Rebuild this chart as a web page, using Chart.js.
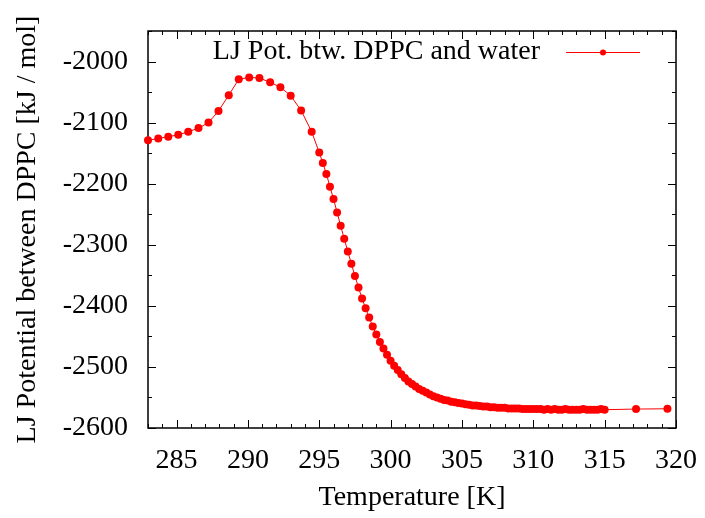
<!DOCTYPE html>
<html>
<head>
<meta charset="utf-8">
<title>LJ Potential between DPPC and water</title>
<script src="https://cdn.jsdelivr.net/npm/chart.js@4"></script>
<style>
  html, body { margin: 0; padding: 0; background: #fff; }
  #wrap { width: 705px; height: 518px; }
</style>
</head>
<body>
<div id="wrap"><canvas id="ljChart" width="705" height="518"></canvas></div>
<script>
// ============================================
// LJ potential vs temperature (gnuplot-style)
// ============================================

const temperature = [
    283.00, 283.72, 284.42, 285.12, 285.82, 286.54, 287.24, 287.94, 288.66,
    289.36, 290.09, 290.81, 291.56, 292.28, 293.00, 293.73, 294.47,
    295.00, 295.25, 295.50, 295.75, 296.00, 296.25, 296.50, 296.75,
    297.00, 297.25, 297.50, 297.75, 298.00, 298.25, 298.50, 298.75,
    299.00, 299.25, 299.50, 299.75, 300.00, 300.25, 300.50, 300.75,
    301.00, 301.25, 301.50, 301.75, 302.00, 302.25, 302.50, 302.75,
    303.00, 303.25, 303.50, 303.75, 304.00, 304.25, 304.50, 304.75,
    305.00, 305.25, 305.50, 305.75, 306.00, 306.25, 306.50, 306.75,
    307.00, 307.25, 307.50, 307.75, 308.00, 308.25, 308.50, 308.75,
    309.00, 309.25, 309.50, 309.75, 310.00, 310.25, 310.50, 310.75,
    311.00, 311.25, 311.50, 311.75, 312.00, 312.25, 312.50, 312.75,
    313.00, 313.25, 313.50, 313.75, 314.00, 314.25, 314.50, 314.75,
    315.00, 317.20, 319.40
];

const ljPotential = [
    -2129, -2126, -2123, -2120, -2115, -2109, -2100, -2081, -2055,
    -2029, -2026, -2027, -2034, -2042, -2056, -2080, -2115,
    -2149, -2166, -2184, -2205, -2225, -2247, -2269, -2290,
    -2311, -2331, -2351, -2370, -2388, -2404, -2419, -2434,
    -2447, -2459, -2470, -2480, -2490, -2498, -2505, -2512,
    -2518, -2524, -2528, -2532, -2536, -2539, -2542, -2545,
    -2548, -2550, -2552, -2554, -2555, -2557, -2558, -2559,
    -2560, -2561, -2562, -2563, -2563, -2564, -2565, -2565,
    -2566, -2566, -2567, -2567, -2567, -2568, -2568, -2568,
    -2568, -2569, -2569, -2569, -2569, -2569, -2569, -2570,
    -2569, -2570, -2569, -2570, -2570, -2569, -2570, -2570,
    -2570, -2570, -2569, -2570, -2570, -2570, -2570, -2569,
    -2570, -2569, -2568.5
];

const xTicks = [285, 290, 295, 300, 305, 310, 315, 320];
const yTicks = [-2600, -2500, -2400, -2300, -2200, -2100, -2000];
const xMinorStep = 1;
const yMinorStep = 50;

const seriesLabel = 'LJ Pot. btw. DPPC and water';
const FONT = "'Liberation Serif', 'DejaVu Serif', serif";

Chart.defaults.font.family = FONT;
Chart.defaults.color = '#000';

// gnuplot-like frame with inward ticks on all four sides
const frameTicks = {
    id: 'frameTicks',
    beforeDatasetsDraw(chart) {
        const { ctx, chartArea: a, scales: { x, y } } = chart;
        ctx.save();
        ctx.strokeStyle = '#000';
        ctx.lineWidth = 1;

        const major = 8, minor = 4;

        ctx.beginPath();
        for (let v = Math.ceil(x.min); v <= x.max; v += xMinorStep) {
            const px = Math.round(x.getPixelForValue(v)) + 0.5;
            const len = xTicks.includes(v) ? major : minor;
            ctx.moveTo(px, a.bottom); ctx.lineTo(px, a.bottom - len);
            ctx.moveTo(px, a.top); ctx.lineTo(px, a.top + len);
        }
        for (let v = y.min; v <= y.max; v += yMinorStep) {
            const py = Math.round(y.getPixelForValue(v)) + 0.5;
            const len = yTicks.includes(v) ? major : minor;
            ctx.moveTo(a.left, py); ctx.lineTo(a.left + len, py);
            ctx.moveTo(a.right, py); ctx.lineTo(a.right - len, py);
        }
        ctx.stroke();

        ctx.lineWidth = 1.5;
        ctx.strokeRect(a.left, a.top, a.right - a.left, a.bottom - a.top);
        ctx.restore();
    },
    afterDatasetsDraw(chart) {
        const { ctx, chartArea: a } = chart;
        const ds = chart.data.datasets[0];
        const ly = a.top + 21;
        const textRight = a.right - 136;
        ctx.save();
        ctx.font = '28px ' + FONT;
        ctx.fillStyle = '#000';
        ctx.textAlign = 'right';
        ctx.textBaseline = 'middle';
        ctx.fillText(seriesLabel, textRight, ly);

        ctx.strokeStyle = ds.borderColor;
        ctx.lineWidth = 1;
        ctx.beginPath();
        ctx.moveTo(textRight + 26, ly + 0.5);
        ctx.lineTo(textRight + 100, ly + 0.5);
        ctx.stroke();
        ctx.fillStyle = ds.pointBackgroundColor;
        ctx.beginPath();
        ctx.arc(textRight + 63, ly + 0.5, 3, 0, Math.PI * 2);
        ctx.fill();
        ctx.restore();
    }
};

const ctx = document.getElementById('ljChart').getContext('2d');

new Chart(ctx, {
    type: 'scatter',
    data: {
        datasets: [{
            label: seriesLabel,
            data: temperature.map((t, i) => ({ x: t, y: ljPotential[i] })),
            showLine: true,
            borderColor: '#ff0000',
            borderWidth: 1,
            pointRadius: 4,
            pointBackgroundColor: '#ff0000',
            pointBorderWidth: 0,
            clip: false
        }]
    },
    options: {
        responsive: false,
        animation: false,
        layout: { padding: { top: 31, right: 29, left: 0, bottom: 0 } },
        plugins: {
            legend: { display: false },
            tooltip: { enabled: false }
        },
        scales: {
            x: {
                type: 'linear',
                min: 283,
                max: 320,
                grid: { display: false, drawTicks: false },
                border: { display: false },
                afterBuildTicks: s => { s.ticks = xTicks.map(v => ({ value: v })); },
                afterFit: s => { s.height = 90; s.paddingLeft = 0; s.paddingRight = 0; },
                ticks: {
                    padding: 16,
                    maxRotation: 0,
                    font: { size: 28 },
                    color: '#000',
                    callback: v => String(v)
                },
                title: {
                    display: true,
                    text: 'Temperature [K]',
                    font: { size: 28 },
                    color: '#000',
                    padding: 4
                }
            },
            y: {
                type: 'linear',
                min: -2600,
                max: -1950,
                grid: { display: false, drawTicks: false },
                border: { display: false },
                afterBuildTicks: s => { s.ticks = yTicks.map(v => ({ value: v })); },
                afterFit: s => { s.width = 148; s.paddingTop = 0; s.paddingBottom = 0; },
                ticks: {
                    padding: 20,
                    font: { size: 28 },
                    color: '#000',
                    callback: v => String(v)
                },
                title: {
                    display: true,
                    text: 'LJ Potential between DPPC [kJ / mol]',
                    font: { size: 28 },
                    color: '#000',
                    padding: 11
                }
            }
        }
    },
    plugins: [frameTicks]
});
</script>
</body>
</html>
